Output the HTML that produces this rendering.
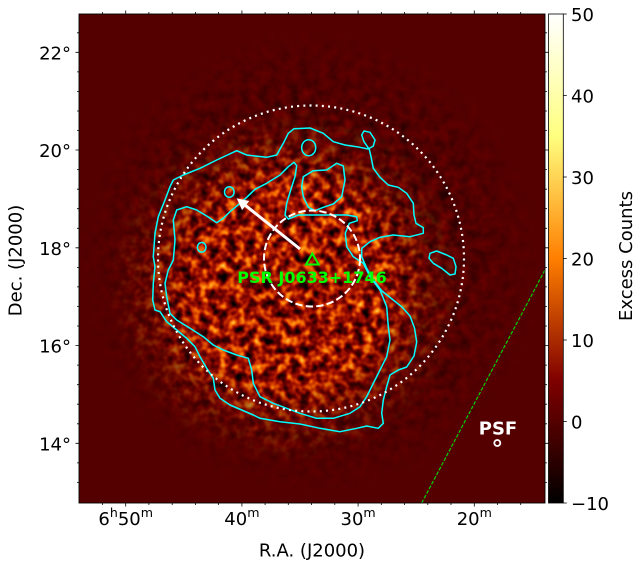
<!DOCTYPE html>
<html><head><meta charset="utf-8"><style>
html,body{margin:0;padding:0;background:#fff;}
svg{display:block;}
text{font-family:"DejaVu Sans","Liberation Sans",sans-serif;}
</style></head><body>
<svg width="643" height="567" viewBox="0 0 643 567" xmlns="http://www.w3.org/2000/svg">
<defs>
<clipPath id="pc"><rect x="79" y="14" width="466" height="489"/></clipPath>
<filter id="nzB" filterUnits="userSpaceOnUse" x="79" y="14" width="466" height="489" color-interpolation-filters="sRGB">
<feTurbulence type="fractalNoise" baseFrequency="0.11" numOctaves="2" seed="3"/>
<feColorMatrix type="matrix" values="0 0 0 1 0 0 0 0 1 0 0 0 0 1 0 0 0 0 0 1"/>
<feComponentTransfer>
<feFuncR type="table" tableValues="0 0 0.03 0.2 0.4 0.6 0.8 0.95 1 1 1"/>
<feFuncG type="table" tableValues="0 0 0 0 0 0.05 0.2 0.4 0.6 0.8 0.95"/>
<feFuncB type="table" tableValues="0 0 0 0 0 0 0 0 0.1 0.3 0.5"/>
</feComponentTransfer>
</filter>
<filter id="nzD" filterUnits="userSpaceOnUse" x="79" y="14" width="466" height="489" color-interpolation-filters="sRGB">
<feTurbulence type="fractalNoise" baseFrequency="0.1" numOctaves="2" seed="11"/>
<feColorMatrix type="matrix" values="0 0 0 1 0 0 0 0 1 0 0 0 0 1 0 0 0 0 0 1"/>
<feComponentTransfer>
<feFuncR type="table" tableValues="0 0.08 0.14 0.2 0.26 0.31 0.36 0.41 0.46 0.5 0.55"/>
<feFuncG type="table" tableValues="0 0 0 0 0 0 0 0 0 0.03 0.06"/>
<feFuncB type="table" tableValues="0 0 0 0 0 0 0 0 0 0 0"/>
</feComponentTransfer>
</filter>
<radialGradient id="g2" gradientUnits="userSpaceOnUse" cx="311" cy="262" r="235">
<stop offset="0" stop-color="#fff"/><stop offset="0.55" stop-color="#fff"/><stop offset="1" stop-color="#000"/>
</radialGradient>
<radialGradient id="g3" gradientUnits="userSpaceOnUse" cx="287" cy="285" r="178">
<stop offset="0" stop-color="#fff"/><stop offset="0.56" stop-color="#fff"/><stop offset="0.8" stop-color="#555"/><stop offset="1" stop-color="#000"/>
</radialGradient>
<mask id="m2" maskUnits="userSpaceOnUse" x="79" y="14" width="466" height="489"><rect x="79" y="14" width="466" height="489" fill="url(#g2)"/></mask>
<mask id="m3" maskUnits="userSpaceOnUse" x="79" y="14" width="466" height="489"><rect x="79" y="14" width="466" height="489" fill="url(#g3)"/></mask>
<linearGradient id="cb" x1="0" y1="1" x2="0" y2="0">
<stop offset="0" stop-color="#000"/><stop offset="0.25" stop-color="#7f0000"/><stop offset="0.5" stop-color="#ff7f00"/><stop offset="0.75" stop-color="#ffff7f"/><stop offset="1" stop-color="#fff"/>
</linearGradient>
</defs>

<!-- image -->
<g clip-path="url(#pc)">
<rect x="79" y="14" width="466" height="489" fill="#550000"/>
<rect x="79" y="14" width="466" height="489" fill="#fff" filter="url(#nzD)" mask="url(#m2)"/>
<rect x="79" y="14" width="466" height="489" fill="#fff" filter="url(#nzB)" mask="url(#m3)"/>

<!-- contours -->
<g fill="none" stroke="#00ffff" stroke-width="1.5" stroke-linejoin="round">
<polygon points="153.3,256.7 155,233.3 158.3,216.7 165,200 170,186.7 173.3,180 183.3,175 200,168.3 216.7,160 236.7,150.7 246.7,155 266.7,157.3 276.7,155 283.3,143.3 288.3,133.3 294,128.7 310,128 323.3,133.3 333.3,141.7 345,145 356.7,146.7 368.3,149 373.3,146 375,140 370,132.3 364,131 361.7,135 364,141.7 369.3,149.3 371,156.7 373.3,168.3 380,177.3 388.3,185 398.3,187.3 406.7,193.3 413.3,203.3 414,215 416,223.3 423.3,227.7 423.3,233.3 410,236.7 393.3,235 380,237.3 370,241.7 361.7,248.3 361.7,256.7 366.7,268.3 373.3,280 382,291 392,299 402,307 410,316 414.5,328 416.7,342 414,356 406.7,367 398.3,370 390,375 386.7,386.7 383.3,400 381.7,413.3 383.3,423.3 378.3,428.3 366.7,426 356.7,428.3 340,431.7 320,428.3 300,424 280,421.7 260,418.3 253.3,415 241.7,410 230,405 220,398.3 215,390 213.3,378.3 206.7,368.3 200,356.7 195,346.7 186.7,338.3 176.7,330 166.7,321.7 160,311.7 155,310 152.7,300 153.3,283.3 155,266.7"/>
<polygon points="186.7,206.7 196.7,210 206.7,216 216.7,222.7 223.3,218.3 230,211.7 240,203.3 246.7,197.3 255,189.3 266.7,183.3 280,175 288.3,166.7 294,162.3 296.7,165.7 295,176.7 290.7,190 286.7,203.3 285,215 288.3,219 298.3,215 313.3,215 330,215 346.7,215 356.7,216.7 357.3,220.7 349.3,223.3 345.3,233.3 346.7,246.7 353.3,256.7 363.3,263.3 370,276.7 380,290 386.7,306.7 388.3,326.7 390,340 386.7,356.7 380,370 373.3,383.3 366.7,396.7 360,406.7 350,413.3 333.3,418.3 316.7,418.3 300,413.3 286.7,408.3 273.3,403.3 260,396.7 253.3,383.3 251.7,370 248.3,358.3 236.7,355 223.3,350 213.3,345 203.3,336.7 190,328.3 176.7,320 170,313.3 166.7,296.7 165,283.3 168.3,270 173.3,260 175,240 173.3,220 176.7,210"/>
<polygon points="303.3,176.7 313.3,170.7 326.7,170 336.7,163.3 343.3,166 345,180 341.7,196.7 333.3,204 323.3,207.3 315,210.7 308.3,207.3 303.3,196.7 301.7,186.7"/>
<polygon points="430,253.3 436.7,251 446.7,255 453.3,258.3 456,266.7 455,274 450,275 441.7,268.3 433.3,263.3 429,258.3"/>
<ellipse cx="308.7" cy="147.7" rx="7" ry="8"/>
<ellipse cx="229.3" cy="192" rx="4.8" ry="5.3"/>
<ellipse cx="201.7" cy="247.3" rx="4.3" ry="4.8"/>
</g>

<!-- circles -->
<circle cx="311" cy="258.5" r="153" fill="none" stroke="#fff" stroke-width="2.2" stroke-dasharray="2 4.2"/>
<circle cx="312" cy="258.5" r="48" fill="none" stroke="#fff" stroke-width="2" stroke-dasharray="7.4 3.2"/>

<!-- arrow -->
<line x1="300" y1="249" x2="245.3" y2="205.3" stroke="#fff" stroke-width="3"/>
<polygon points="237.5,199 248.4,201.3 242.2,209.2" fill="#fff" stroke="#fff" stroke-width="1"/>

<!-- pulsar -->
<polygon points="312.3,253.5 306,264.5 318.7,264.5" fill="none" stroke="#00ff00" stroke-width="2"/>
<text x="312" y="283" font-size="16" font-weight="bold" fill="#00ff00" text-anchor="middle">PSR J0633+1746</text>

<!-- green dashed line -->
<line x1="421.7" y1="503" x2="546" y2="268" stroke="#00e000" stroke-width="1.1" stroke-dasharray="3.7 1.6"/>

<!-- PSF -->
<text x="498" y="434.5" font-size="18" font-weight="bold" fill="#fff" text-anchor="middle">PSF</text>
<circle cx="497.3" cy="443" r="3" fill="none" stroke="#fff" stroke-width="1.8"/>
</g>

<!-- frame -->
<rect x="79" y="14" width="466" height="489" fill="none" stroke="#000" stroke-width="0.9"/>

<!-- ticks -->
<g stroke="#000" stroke-width="0.8" fill="none">
<path d="M125.7,503v3.5M241.9,503v3.5M358.1,503v3.5M474.3,503v3.5M125.7,14v-3.5M241.9,14v-3.5M358.1,14v-3.5M474.3,14v-3.5"/>
<path d="M102.5,503v2M148.9,503v2M172.2,503v2M195.4,503v2M218.6,503v2M265.1,503v2M288.3,503v2M311.5,503v2M334.8,503v2M381.3,503v2M404.6,503v2M427.8,503v2M451,503v2M497.5,503v2M520.7,503v2M102.5,14v-2M148.9,14v-2M172.2,14v-2M195.4,14v-2M218.6,14v-2M265.1,14v-2M288.3,14v-2M311.5,14v-2M334.8,14v-2M381.3,14v-2M404.6,14v-2M427.8,14v-2M451,14v-2M497.5,14v-2M520.7,14v-2"/>
<path d="M79,52.3h-3.5M79,150h-3.5M79,247.8h-3.5M79,345.5h-3.5M79,443.3h-3.5M545,52.3h3.5M545,150h3.5M545,247.8h3.5M545,345.5h3.5M545,443.3h3.5"/>
<path d="M79,32.8h-2M79,71.9h-2M79,91.4h-2M79,111h-2M79,130.5h-2M79,169.6h-2M79,189.2h-2M79,208.7h-2M79,228.3h-2M79,267.4h-2M79,286.9h-2M79,306.5h-2M79,326h-2M79,365.1h-2M79,384.7h-2M79,404.2h-2M79,423.8h-2M79,462.9h-2M79,482.4h-2M545,32.8h2M545,71.9h2M545,91.4h2M545,111h2M545,130.5h2M545,169.6h2M545,189.2h2M545,208.7h2M545,228.3h2M545,267.4h2M545,286.9h2M545,306.5h2M545,326h2M545,365.1h2M545,384.7h2M545,404.2h2M545,423.8h2M545,462.9h2M545,482.4h2"/>
</g>

<!-- tick labels -->
<g font-size="18" fill="#000">
<text x="71" y="59.3" text-anchor="end">22°</text>
<text x="71" y="157" text-anchor="end">20°</text>
<text x="71" y="254.8" text-anchor="end">18°</text>
<text x="71" y="352.5" text-anchor="end">16°</text>
<text x="71" y="450.3" text-anchor="end">14°</text>
<text x="125.7" y="525" text-anchor="middle">6<tspan font-size="12.6" dy="-8">h</tspan><tspan dy="8">50</tspan><tspan font-size="12.6" dy="-8">m</tspan></text>
<text x="241.9" y="525" text-anchor="middle">40<tspan font-size="12.6" dy="-8">m</tspan></text>
<text x="358.1" y="525" text-anchor="middle">30<tspan font-size="12.6" dy="-8">m</tspan></text>
<text x="474.3" y="525" text-anchor="middle">20<tspan font-size="12.6" dy="-8">m</tspan></text>
<text x="312" y="556.5" text-anchor="middle">R.A. (J2000)</text>
<text transform="translate(21.5,260.5) rotate(-90)" text-anchor="middle">Dec. (J2000)</text>
</g>

<!-- colorbar -->
<rect x="548.5" y="14" width="14.8" height="489" fill="url(#cb)" stroke="#000" stroke-width="0.8"/>
<path d="M563.3,14h3.5M563.3,95.5h3.5M563.3,177h3.5M563.3,258.5h3.5M563.3,340h3.5M563.3,421.5h3.5M563.3,503h3.5" stroke="#000" stroke-width="0.8"/>
<g font-size="18" fill="#000">
<text x="571" y="20.8">50</text>
<text x="571" y="102.3">40</text>
<text x="571" y="183.8">30</text>
<text x="571" y="265.3">20</text>
<text x="571" y="346.8">10</text>
<text x="571" y="428.3">0</text>
<text x="571" y="509.8">−10</text>
<text transform="translate(632,256) rotate(-90)" text-anchor="middle">Excess Counts</text>
</g>
</svg>
</body></html>
